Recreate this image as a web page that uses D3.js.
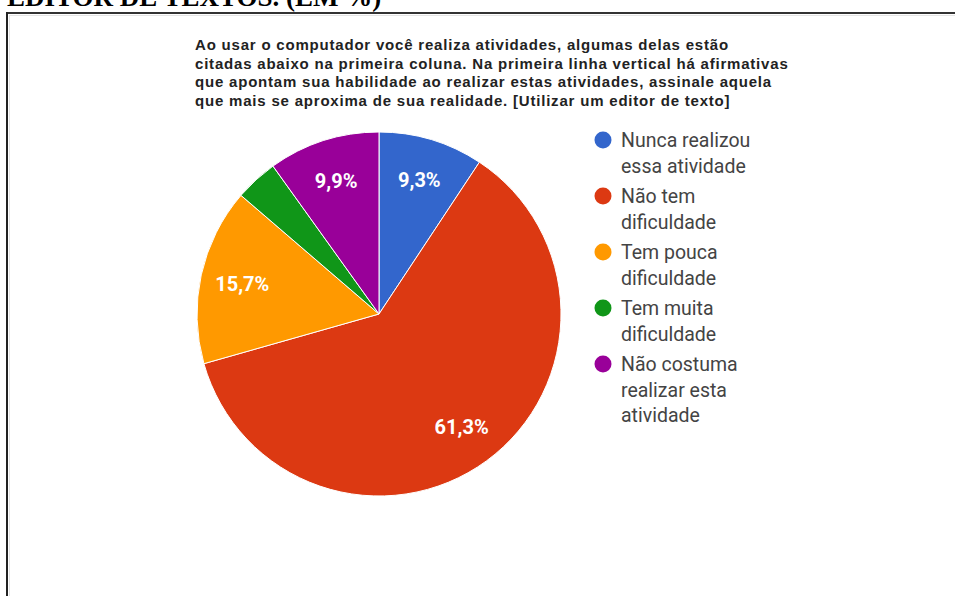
<!DOCTYPE html>
<html>
<head>
<meta charset="utf-8">
<script src="https://cdn.jsdelivr.net/npm/d3@7"></script>
<style>
  body { margin: 0; background: #fff; }
  svg { display: block; }
</style>
</head>
<body>
<div id="chart"></div>
<script>
// data
var categories = ["Nunca realizou essa atividade", "Não tem dificuldade", "Tem pouca dificuldade", "Tem muita dificuldade", "Não costuma realizar esta atividade"];
var legendLines = [["Nunca realizou", "essa atividade"], ["Não tem", "dificuldade"], ["Tem pouca", "dificuldade"], ["Tem muita", "dificuldade"], ["Não costuma", "realizar esta", "atividade"]];
var values = [9.3, 61.3, 15.7, 3.8, 9.9];
var colors = ["#3366cc", "#dc3912", "#ff9900", "#109618", "#990099"];
var titleLines = [
    "Ao usar o computador você realiza atividades, algumas delas estão",
    "citadas abaixo na primeira coluna. Na primeira linha vertical há afirmativas",
    "que apontam sua habilidade ao realizar estas atividades, assinale aquela",
    "que mais se aproxima de sua realidade. [Utilizar um editor de texto]"
];
var heading = "EDITOR DE TEXTOS. (EM %)";

function DrawPie(){
    var width = 955;
    var height = 596;
    var cx = 379, cy = 314, radius = 182;

    var svg = d3.select("#chart").append("svg")
        .attr("width", width)
        .attr("height", height);

    // heading from the page above, cut off at the top
    svg.append("text")
        .attr("x", 7)
        .attr("y", 6)
        .style("font-family", "'Liberation Serif', serif")
        .style("font-weight", "bold")
        .style("font-size", "27px")
        .style("fill", "#000")
        .text(heading);

    // frame
    svg.append("line").attr("x1", 6).attr("x2", width).attr("y1", 13).attr("y2", 13)
        .style("stroke", "#333").style("stroke-width", 2);
    svg.append("line").attr("x1", 7).attr("x2", 7).attr("y1", 12).attr("y2", height)
        .style("stroke", "#222").style("stroke-width", 2);
    svg.append("line").attr("x1", 9).attr("x2", width).attr("y1", 15.5).attr("y2", 15.5)
        .style("stroke", "#e4e4e4").style("stroke-width", 1);
    svg.append("line").attr("x1", 9.5).attr("x2", 9.5).attr("y1", 15).attr("y2", height)
        .style("stroke", "#e4e4e4").style("stroke-width", 1);

    // title
    svg.append("g").selectAll("text").data(titleLines).enter().append("text")
        .attr("x", 195)
        .attr("y", (d, i) => 50 + i * 18.5)
        .style("font-family", "Arial, 'Liberation Sans', sans-serif")
        .style("font-weight", "bold")
        .style("font-size", "15px")
        .style("letter-spacing", "0.8px")
        .style("fill", "#222")
        .text(d => d);

    var pie = d3.pie().sort(null).value(d => d);
    var arc = d3.arc().innerRadius(0).outerRadius(radius);
    var labelArc = d3.arc().innerRadius(140).outerRadius(140);

    var g = svg.append("g").attr("transform", "translate(" + cx + "," + cy + ")");
    var arcs = pie(values);

    g.selectAll("path").data(arcs).enter().append("path")
        .attr("d", arc)
        .style("fill", (d, i) => colors[i])
        .style("stroke", "#fff")
        .style("stroke-width", 1);

    g.selectAll("text.lbl").data(arcs.filter(d => d.data >= 5)).enter().append("text")
        .attr("class", "lbl")
        .attr("transform", d => "translate(" + labelArc.centroid(d) + ")")
        .attr("text-anchor", "middle")
        .attr("dy", "0.35em")
        .style("font-family", "Roboto, Arial, sans-serif")
        .style("font-weight", "bold")
        .style("font-size", "20px")
        .style("fill", "#fff")
        .text(d => d3.format(".1f")(d.data).replace(".", ",") + "%");

    // legend
    var legend = svg.append("g").selectAll("g").data(categories).enter().append("g")
        .attr("transform", (d, i) => "translate(603," + (140 + i * 56) + ")");
    legend.append("circle")
        .attr("r", 8.5)
        .style("fill", (d, i) => colors[i]);
    legend.append("text")
        .style("font-family", "Roboto, sans-serif")
        .style("font-size", "19.5px")
        .style("fill", "#444")
        .selectAll("tspan").data((d, i) => legendLines[i]).enter().append("tspan")
        .attr("x", 18)
        .attr("y", (d, j) => j * 25.5)
        .attr("dy", "0.36em")
        .text(d => d);
}

DrawPie();
</script>
</body>
</html>
